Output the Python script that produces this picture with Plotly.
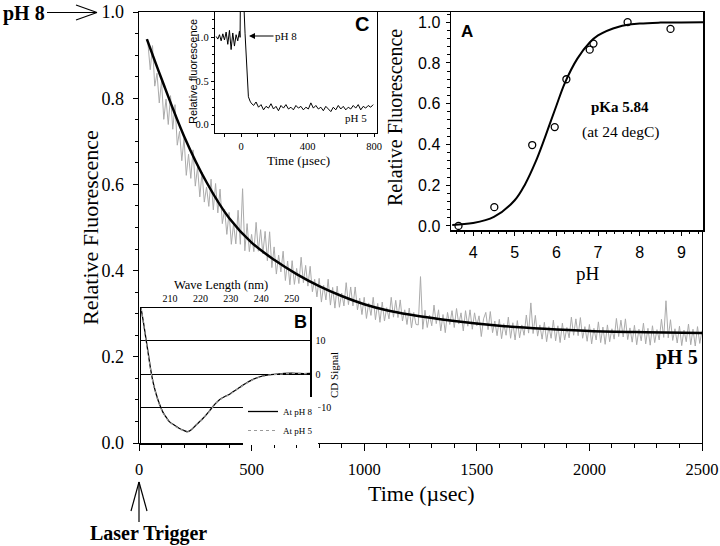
import plotly.graph_objects as go

W, H = 720, 546
def px(x): return x / W
def py(y): return 1 - y / H

SERIF = "Liberation Serif"
SANS = "Liberation Sans"

# ---------------- main panel: fluorescence decay after laser trigger (10 µs samples from 40 µs) ----------------
trace_val = [
    0.925, 0.866, 0.922, 0.828, 0.858, 0.789, 0.840, 0.751, 0.798, 0.739,
    0.806, 0.728, 0.785, 0.691, 0.723, 0.655, 0.707, 0.621, 0.670, 0.614,
    0.680, 0.596, 0.640, 0.571, 0.628, 0.559, 0.594, 0.549, 0.612, 0.541,
    0.602, 0.534, 0.589, 0.509, 0.542, 0.484, 0.535, 0.461, 0.509, 0.462,
    0.540, 0.461, 0.590, 0.446, 0.509, 0.444, 0.484, 0.444, 0.512, 0.445,
    0.495, 0.439, 0.491, 0.423, 0.490, 0.407, 0.455, 0.392, 0.436, 0.397,
    0.445, 0.377, 0.422, 0.367, 0.423, 0.368, 0.405, 0.370, 0.431, 0.372,
    0.412, 0.364, 0.410, 0.351, 0.380, 0.339, 0.382, 0.327, 0.366, 0.332,
    0.380, 0.320, 0.361, 0.313, 0.364, 0.315, 0.348, 0.318, 0.372, 0.321,
    0.362, 0.318, 0.362, 0.309, 0.336, 0.298, 0.338, 0.289, 0.325, 0.296,
    0.338, 0.286, 0.324, 0.280, 0.327, 0.283, 0.314, 0.288, 0.338, 0.292,
    0.331, 0.291, 0.332, 0.283, 0.309, 0.275, 0.313, 0.267, 0.303, 0.275,
    0.274, 0.386, 0.264, 0.308, 0.268, 0.297, 0.272, 0.320, 0.277, 0.309,
    0.260, 0.298, 0.256, 0.303, 0.275, 0.307, 0.268, 0.312, 0.276, 0.302,
    0.260, 0.307, 0.271, 0.309, 0.264, 0.302, 0.272, 0.295, 0.247, 0.288,
    0.303, 0.263, 0.305, 0.256, 0.283, 0.249, 0.287, 0.242, 0.277, 0.250,
    0.292, 0.243, 0.279, 0.239, 0.284, 0.244, 0.274, 0.250, 0.297, 0.255,
    0.325, 0.254, 0.296, 0.248, 0.274, 0.241, 0.280, 0.235, 0.270, 0.243,
    0.285, 0.237, 0.272, 0.233, 0.278, 0.239, 0.268, 0.244, 0.292, 0.250,
    0.288, 0.249, 0.291, 0.243, 0.270, 0.236, 0.275, 0.230, 0.266, 0.239,
    0.281, 0.233, 0.269, 0.229, 0.274, 0.235, 0.265, 0.241, 0.289, 0.247,
    0.285, 0.246, 0.288, 0.240, 0.267, 0.234, 0.273, 0.228, 0.264, 0.237,
    0.278, 0.230, 0.266, 0.227, 0.272, 0.233, 0.263, 0.239, 0.287, 0.245,
    0.330, 0.244, 0.286, 0.238, 0.265, 0.232, 0.271, 0.226, 0.262, 0.235,
    0.276, 0.228, 0.264, 0.225, 0.270, 0.231, 0.261]
trace_t = [40 + 10 * i for i in range(len(trace_val))]

fit_t = [35, 100, 200, 300, 400, 500, 600, 700, 800, 900, 1000, 1100, 1200,
         1400, 1600, 1800, 2000, 2250, 2500]
fit_val = [0.937, 0.845, 0.712, 0.605, 0.522, 0.465, 0.425, 0.392, 0.364, 0.341,
           0.322, 0.308, 0.298, 0.283, 0.272, 0.265, 0.260, 0.257, 0.255]

# ---------------- inset C: short time trace ----------------
c_t = [-150, -140, -130, -120, -110, -100, -90, -80, -70, -60, -50, -40, -30, -20, -10,
       -6, -4, 14, 24, 36, 44, 54] + list(range(60, 800, 15))
c_val = [1.01, 0.98, 1.03, 0.96, 1.04, 0.97, 1.06, 0.92, 1.08, 0.86, 1.05, 0.90, 1.03, 0.96, 1.07,
         1.00, 1.50, 1.50, 1.04, 0.66, 0.32, 0.27,
         0.25, 0.22, 0.26, 0.20, 0.23, 0.17, 0.21, 0.19, 0.24, 0.18,
         0.21, 0.16, 0.22, 0.19, 0.23, 0.18, 0.20, 0.17, 0.22, 0.19,
         0.21, 0.17, 0.20, 0.18, 0.25, 0.19, 0.22, 0.18, 0.20, 0.16,
         0.21, 0.18, 0.15, 0.20, 0.17, 0.22, 0.18, 0.21, 0.17, 0.20,
         0.18, 0.22, 0.19, 0.23, 0.17, 0.21, 0.19, 0.22, 0.20, 0.23]

# ---------------- inset B: CD spectra ----------------
b_wl = [200.5, 201.3, 202, 203, 203.7, 204.5, 205.4, 206.5, 207.6, 208.7, 209.8, 211.5,
        213, 214.5, 215.8, 217.2, 218.6, 220, 221.4, 223, 224, 225.5, 227, 228.5, 229.6,
        231, 233, 235, 237, 238.5, 240.6, 242.5, 245, 247.5, 250, 252.5, 256]
b_cd_ph8 = [19.8, 15.5, 11.3, 5.5, 1.3, -2.5, -5.7, -8.8, -11.2, -12.8, -14.2, -15.3,
            -16.2, -16.8, -17.2, -16.5, -15.2, -14.0, -12.7, -11.0, -9.8, -8.3, -7.2, -6.5, -6.0,
            -5.1, -3.9, -2.7, -1.7, -1.1, -0.5, -0.2, 0.0, 0.2, 0.3, 0.2, 0.2]
b_cd_ph5 = [19.8, 15.3, 11.0, 5.3, 1.1, -2.7, -5.9, -9.0, -11.3, -12.9, -14.3, -15.4,
            -16.3, -16.9, -17.3, -16.6, -15.3, -14.1, -12.8, -11.1, -9.9, -8.4, -7.3, -6.6, -6.1,
            -5.2, -4.0, -2.8, -1.8, -1.2, -0.6, -0.3, -0.1, 0.1, 0.2, 0.2, 0.1]

# ---------------- inset A: pH titration ----------------
a_ph = [3.65, 4.51, 5.42, 5.96, 6.24, 6.80, 6.89, 7.71, 8.74]
a_rf = [0.00, 0.092, 0.397, 0.485, 0.72, 0.865, 0.895, 1.00, 0.967]
a_fit_ph = [3.5, 4.0, 4.5, 5.0, 5.25, 5.5, 5.7, 5.84, 6.0, 6.2, 6.5, 6.8, 7.0, 7.5, 8.0, 8.5, 9.0, 9.52]
a_fit_rf = [0.005, 0.014, 0.044, 0.126, 0.205, 0.314, 0.42, 0.50, 0.59, 0.70, 0.82, 0.90,
            0.935, 0.978, 0.993, 0.998, 0.999, 1.0]

fig = go.Figure()

fig.add_trace(go.Scatter(x=trace_t, y=trace_val, mode="lines", line=dict(color="#ababab", width=1),
                         showlegend=False, xaxis="x", yaxis="y"))
fig.add_trace(go.Scatter(x=fit_t, y=fit_val, mode="lines", line=dict(color="black", width=2.5, shape="spline"),
                         showlegend=False, xaxis="x", yaxis="y"))
fig.add_trace(go.Scatter(x=c_t, y=c_val, mode="lines", line=dict(color="black", width=1),
                         showlegend=False, xaxis="x2", yaxis="y2"))
fig.add_trace(go.Scatter(x=b_wl, y=b_cd_ph8, mode="lines", name="At pH 8",
                         line=dict(color="black", width=1.3, shape="spline"), xaxis="x3", yaxis="y3"))
fig.add_trace(go.Scatter(x=b_wl, y=b_cd_ph5, mode="lines", name="At pH 5",
                         line=dict(color="#9a9a9a", width=1.2, dash="dot", shape="spline"), xaxis="x3", yaxis="y3"))
fig.add_trace(go.Scatter(x=a_fit_ph, y=a_fit_rf, mode="lines", line=dict(color="black", width=2, shape="spline"),
                         showlegend=False, xaxis="x4", yaxis="y4"))
fig.add_trace(go.Scatter(x=a_ph, y=a_rf, mode="markers",
                         marker=dict(symbol="circle-open", size=7, color="black", line=dict(width=1.3)),
                         showlegend=False, xaxis="x4", yaxis="y4"))


def axis(**kw):
    base = dict(showline=True, linecolor="black", linewidth=1.3, mirror=True, showgrid=False,
                zeroline=False, ticks="outside", tickcolor="black", tickwidth=1, color="black",
                automargin=False)
    base.update(kw)
    return base


def minor(d, ln=3):
    return dict(dtick=d, ticks="outside", ticklen=ln, tickcolor="black", tickwidth=1, showgrid=False)


fig.update_layout(
    template="none",
    width=W, height=H, margin=dict(l=0, r=0, t=0, b=0, autoexpand=False),
    paper_bgcolor="white", plot_bgcolor="white",
    xaxis=axis(domain=[px(139), px(702)], range=[0, 2500], anchor="y", dtick=500, tick0=0,
               ticklen=7, minor=minor(100, 4), tickfont=dict(family=SERIF, size=16.5),
               ticklabelstandoff=4),
    yaxis=axis(domain=[py(443), py(12)], range=[0, 1], anchor="x", dtick=0.2, tick0=0,
               tickformat=".1f", ticklen=5, minor=minor(0.05, 3),
               tickfont=dict(family=SERIF, size=18), ticklabelstandoff=5),
    xaxis2=axis(domain=[px(215), px(377)], range=[-157, 818], anchor="y2", dtick=400, tick0=0,
                ticklen=3, minor=minor(100, 2.5), tickfont=dict(family=SERIF, size=10.5),
                ticklabelstandoff=0, linewidth=1.2),
    yaxis2=axis(domain=[py(133), py(12)], range=[-0.095, 1.29], anchor="x2",
                tickvals=[0, 0.5, 1.0], tickformat=".1f", ticklen=3, minor=minor(0.1, 2),
                tickfont=dict(family=SERIF, size=10.5), ticklabelstandoff=0, linewidth=1.2),
    xaxis3=axis(domain=[px(141), px(310)], range=[200.5, 256], anchor="y3", side="top",
                tickvals=[210, 220, 230, 240, 250], ticks="", tickfont=dict(family=SERIF, size=10),
                ticklabelstandoff=1, linewidth=1.5),
    yaxis3=axis(domain=[py(443), py(308)], range=[-20.6, 19.8], anchor="x3", side="right",
                tickvals=[-10, 0, 10], ticks="", showgrid=True, gridcolor="black", gridwidth=1,
                tickfont=dict(family=SERIF, size=10), ticklabelstandoff=2, linewidth=1.5),
    xaxis4=axis(domain=[px(451), px(703)], range=[3.47, 9.52], anchor="y4", dtick=1, tick0=0,
                ticklen=4, minor=minor(0.2, 2.5), tickfont=dict(family=SANS, size=16),
                ticklabelstandoff=3, linewidth=1.5),
    yaxis4=axis(domain=[py(230), py(12)], range=[-0.02, 1.05], anchor="x4", dtick=0.2, tick0=0,
                tickformat=".1f", ticklen=4, minor=minor(0.04, 2.5), tickfont=dict(family=SANS, size=16),
                ticklabelstandoff=2, linewidth=1.5),
    showlegend=True,
    legend=dict(x=px(243), y=py(397), xanchor="left", yanchor="top", bgcolor="white",
                font=dict(family=SERIF, size=9, color="black"), itemwidth=30, tracegroupgap=0),
)


def note(text, x, y, size, family=SERIF, angle=0, **kw):
    d = dict(text=text, x=px(x), y=py(y), xref="paper", yref="paper", showarrow=False,
             font=dict(family=family, size=size, color="black"), textangle=angle,
             xanchor="center", yanchor="middle")
    d.update(kw)
    return d


annotations = [
    note("Relative Fluorescence", 90, 228, 22, angle=-90),
    note("Time (µsec)", 421, 493, 22),
    note("<b>pH 8</b>", 24, 13, 20),
    note("<b>Laser Trigger</b>", 148, 533, 20),
    note("<b>pH 5</b>", 677, 357, 20),
    note("<b>C</b>", 362, 24, 20, family=SANS),
    note("Relative fluorescence", 193, 72, 11, family=SANS, angle=-90),
    note("Time (µsec)", 298, 160, 13),
    note("pH 5", 356, 118, 11),
    dict(text="pH 8", x=px(249), y=py(36), xref="paper", yref="paper", showarrow=True,
         ax=37, ay=0, arrowhead=2, arrowsize=1, arrowwidth=1.2, arrowcolor="black",
         font=dict(family=SERIF, size=11, color="black")),
    note("Wave Length (nm)", 221, 285, 12.5),
    note("CD Signal", 334, 375, 11, angle=-90),
    note("<b>B</b>", 300, 322, 18, family=SANS),
    note("<b>A</b>", 467, 31, 17, family=SANS),
    note("Relative Fluorescence", 395, 118, 20, angle=-90),
    note("pH", 588, 273, 19),
    note("<b>pKa 5.84</b>", 620, 107, 15),
    note("(at 24 degC)", 620, 132, 15.5),
]
fig.update_layout(annotations=annotations)


def seg(x0, y0, x1, y1, w=1.2):
    return dict(type="line", xref="paper", yref="paper", x0=px(x0), y0=py(y0), x1=px(x1), y1=py(y1),
                line=dict(color="black", width=w))


shapes = [
    # pH 8 open arrow at the 1.0 tick
    seg(47, 12.5, 97, 12.5), seg(76, 5, 97, 12.5), seg(76, 20, 97, 12.5),
    # laser trigger open arrow
    seg(139, 522, 139, 482), seg(131, 511, 139, 482), seg(147, 511, 139, 482),
]
fig.update_layout(shapes=shapes)

fig.write_html("out.html", config={"displayModeBar": False, "staticPlot": True},
               post_script="document.body.style.margin='0';document.body.style.padding='0';"
                           "document.body.style.overflow='hidden';")
